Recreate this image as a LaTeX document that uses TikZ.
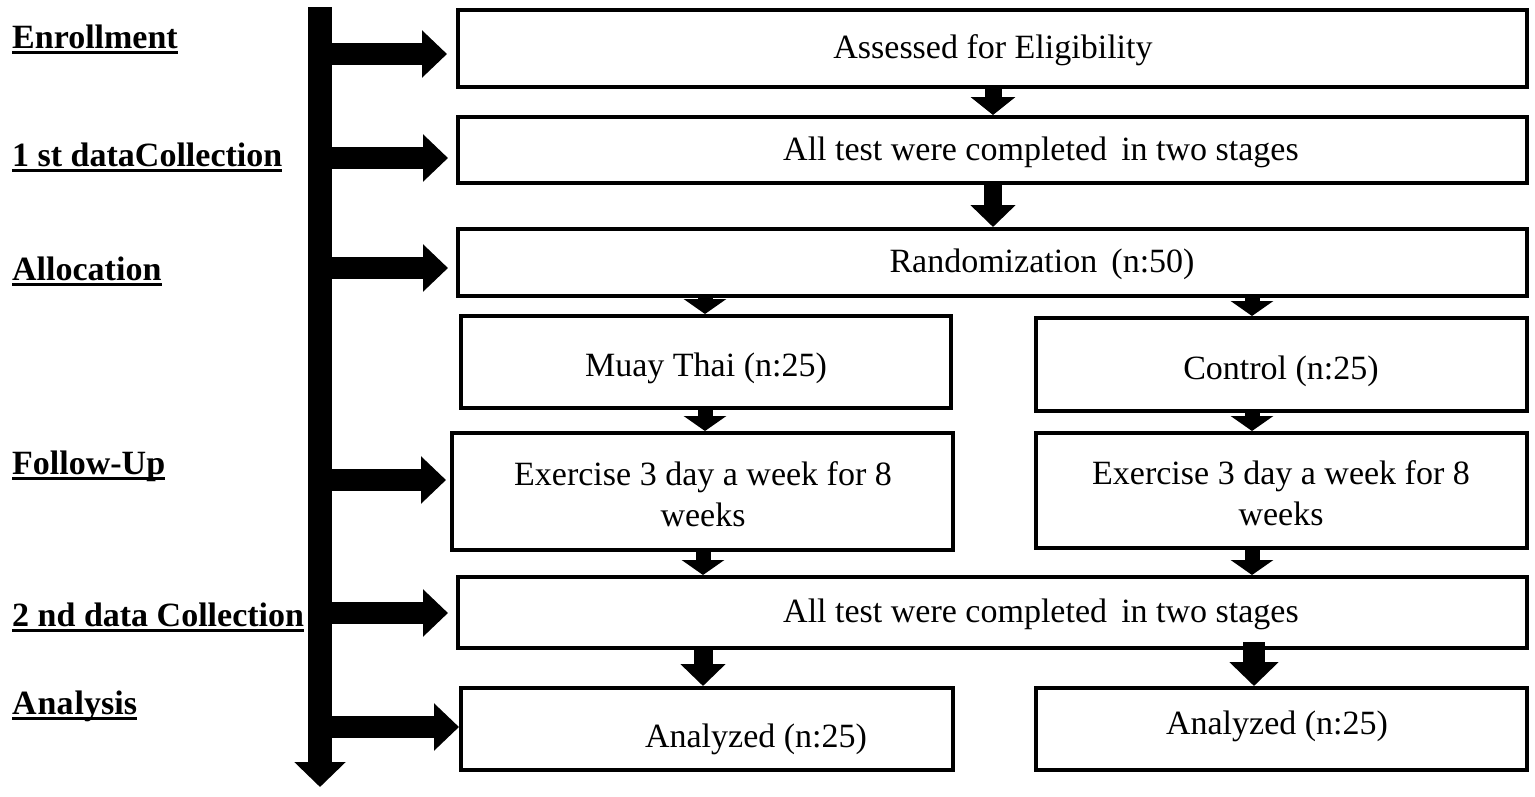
\documentclass[tikz,border=0pt]{standalone}
\usepackage{fontspec}
\setmainfont{Liberation Serif}
\usetikzlibrary{arrows.meta}
\begin{document}
\begin{tikzpicture}[x=1pt,y=-1pt,
  box/.style={draw, line width=4pt, fill=white, inner sep=0pt},
  txt/.style={font=\fontsize{34}{41}\selectfont, inner sep=0pt, align=center},
  lab/.style={font=\fontsize{34}{41}\selectfont\bfseries, inner sep=0pt, anchor=base west},
  uline/.style={line width=3pt},
  bigarrow/.style={line width=22pt, -{Triangle[length=25pt,width=46pt]}},
  smallarrow/.style={line width=15pt, -{Triangle[length=15pt,width=42pt]}},
  longarrow/.style={line width=19pt, -{Triangle[length=22pt,width=44pt]}}]
\fill[white] (0,0) rectangle (1535,796);
\useasboundingbox (0,0) rectangle (1535,796);

% left labels
\node[lab] (l1) at (12,48) {Enrollment};
\node[lab] (l2) at (12,166) {1 st dataCollection};
\node[lab] (l3) at (12,280) {Allocation};
\node[lab] (l4) at (12,474) {Follow-Up};
\node[lab] (l5) at (12,626) {2 nd data Collection};
\node[lab] (l6) at (12,714) {A\kern1pt na\kern1pt lysis};
\foreach \l in {l1,l2,l3,l4,l5,l6}{
  \draw[uline] ([yshift=-4pt]\l.base west) -- ([yshift=-4pt]\l.base east);
}

% timeline bar
\coordinate (bartop) at (320,7);
\coordinate (barend) at (320,787);
\draw[line width=24pt, -{Triangle[length=25pt,width=50pt]}] (bartop) -- (barend);

% boxes
\node[box, minimum width=1069pt, minimum height=77pt] (b1) at (992.5,48.5) {};
\node[txt] at (993,50) {Assessed for Eligibility};
\node[box, minimum width=1069pt, minimum height=66pt] (b2) at (992.5,150) {};
\node[txt] at (1041,152) {All test were completed\, in two stages};
\node[box, minimum width=1069pt, minimum height=67pt] (b3) at (992.5,262.5) {};
\node[txt] at (1042,264) {Randomization\, (n:50)};
\node[box, minimum width=490pt, minimum height=92pt] (b4) at (706,362) {};
\node[txt] at (706,368) {Muay Thai (n:25)};
\node[box, minimum width=491pt, minimum height=93pt] (b5) at (1281.5,364.5) {};
\node[txt] at (1281,371) {Control (n:25)};
\node[box, minimum width=501pt, minimum height=117pt] (b6) at (702.5,491.5) {};
\node[txt] at (703,494) {Exercise 3 day a week for 8\\weeks};
\node[box, minimum width=491pt, minimum height=115pt] (b7) at (1281.5,490.5) {};
\node[txt] at (1281,493) {Exercise 3 day a week for 8\\weeks};
\node[box, minimum width=1069pt, minimum height=71pt] (b8) at (992.5,612.5) {};
\node[txt] at (1041,614) {All test were completed\, in two stages};
\node[box, minimum width=492pt, minimum height=82pt] (b9) at (707,729) {};
\node[txt] at (756,739) {Analyzed (n:25)};
\node[box, minimum width=491pt, minimum height=82pt] (b10) at (1281.5,729) {};
\node[txt] at (1277,726) {Analyzed (n:25)};

% horizontal arrows from timeline
\coordinate (h1) at (332,54);   \coordinate (e1) at (447,54);
\coordinate (h2) at (332,158);  \coordinate (e2) at (448,158);
\coordinate (h3) at (332,268);  \coordinate (e3) at (448,268);
\coordinate (h4) at (332,480);  \coordinate (e4) at (446,480);
\coordinate (h5) at (332,613);  \coordinate (e5) at (448,613);
\coordinate (h6) at (332,727);  \coordinate (e6) at (459,727);
\foreach \i in {1,...,6}{ \draw[bigarrow] (h\i) -- (e\i); }

% vertical arrows between boxes
\draw[line width=17pt, -{Triangle[length=18pt,width=44pt]}] (b1.south -| 993,0) -- (b2.north -| 993,0);
\draw[line width=18pt, -{Triangle[length=22pt,width=44pt]}] (b2.south -| 993,0) -- (b3.north -| 993,0);
\draw[smallarrow] (b3.south -| 705,0) -- (b4.north -| 705,0);
\draw[smallarrow] (b3.south -| 1252,0) -- (b5.north -| 1252,0);
\draw[smallarrow] (b4.south -| 705,0) -- (b6.north -| 705,0);
\draw[smallarrow] (b5.south -| 1252,0) -- (b7.north -| 1252,0);
\draw[smallarrow] (b6.south -| 703,0) -- (b8.north -| 703,0);
\draw[smallarrow] (b7.south -| 1252,0) -- (b8.north -| 1252,0);
\draw[longarrow] (b8.south -| 703,0) -- (b9.north -| 703,0);
\draw[line width=22pt, -{Triangle[length=24pt,width=48pt]}] ([yshift=8pt]b8.south -| 1254,0) -- (b10.north -| 1254,0);
\end{tikzpicture}
\end{document}
